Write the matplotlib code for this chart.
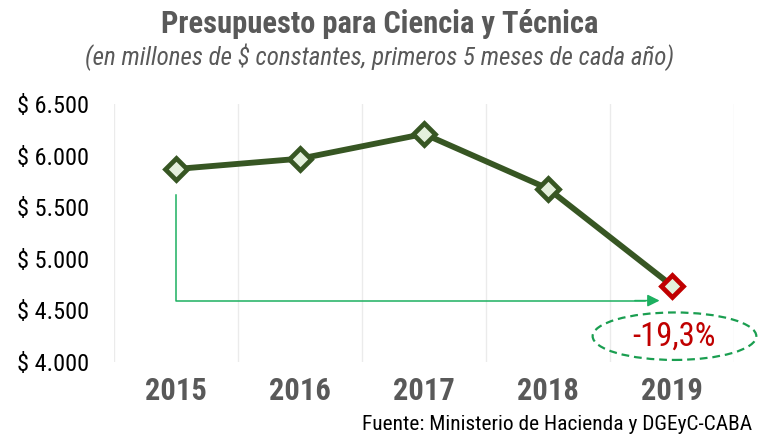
import matplotlib
matplotlib.use("Agg")
import matplotlib.pyplot as plt
from matplotlib.patches import Ellipse
from matplotlib.ticker import FixedLocator, FuncFormatter

plt.rcParams['font.family'] = ['Roboto Condensed', 'Roboto', 'DejaVu Sans']

years = ["2015", "2016", "2017", "2018", "2019"]
values = [5870, 5970, 6210, 5680, 4740]
yticks = [4000, 4500, 5000, 5500, 6000, 6500]
change_label = "-19,3%"

fig = plt.figure(figsize=(7.6, 4.43), dpi=100)
ax = fig.add_axes([114/760, 1-362/443, (734-114)/760, (362-104)/443])

x = list(range(len(years)))
dark = "#375623"
red = "#C00000"
green = "#1DB060"
gray = "#595959"

ax.plot(x, values, color=dark, lw=4.2, zorder=3, solid_joinstyle='round')
ax.plot(x[:-1], values[:-1], ls='none', marker='D', ms=11.5, mfc="#E4F0DC",
        mec=dark, mew=3.4, zorder=4)
ax.plot(x[-1:], values[-1:], ls='none', marker='D', ms=11.5, mfc="#E4F0DC",
        mec=red, mew=3.4, zorder=4)

ax.set_xlim(-0.5, 4.5)
ax.set_ylim(4000, 6500)
ax.set_xticks(x)
ax.set_xticklabels(years, fontsize=22, fontweight='bold', color=gray)
ax.xaxis.set_minor_locator(FixedLocator([i - 0.5 for i in range(len(years) + 1)]))
ax.grid(which='minor', axis='x', color='#EBEBEB', lw=1)
ax.grid(which='major', visible=False)
ax.set_yticks(yticks)
ax.yaxis.set_major_formatter(FuncFormatter(lambda v, p: "$ " + f"{int(v):,}".replace(",", ".")))
ax.tick_params(axis='y', labelsize=17.5, length=0, pad=18, labelcolor='black')
ax.tick_params(axis='x', length=0, pad=10)
ax.tick_params(which='minor', length=0)
for s in ax.spines.values():
    s.set_visible(False)

# arrow from 2015 to 2019
ax.plot([0, 0, 3.78], [5615, 4595, 4595], color=green, lw=1.1, zorder=2)
ax.annotate("", xy=(3.9, 4595), xytext=(3.7, 4595),
            arrowprops=dict(arrowstyle='-|>', color=green, lw=1.1,
                            mutation_scale=18, shrinkA=0, shrinkB=0))

# ellipse with change label
ell = Ellipse((4.02, 4250), width=1.32, height=460, fill=False, ec="#1A9E50",
              lw=1.6, ls=(0, (3.5, 2.2)), clip_on=False, zorder=5)
ax.add_patch(ell)
ax.text(4.02, 4250, change_label, color=red, fontsize=23.5, ha='center', va='center', zorder=6)

fig.text(0.5, 0.945, "Presupuesto para Ciencia y Técnica", ha='center', va='center',
         fontsize=22, fontweight='bold', color=gray)
fig.text(0.5, 0.870, "(en millones de $ constantes, primeros 5 meses de cada año)",
         ha='center', va='center', fontsize=18, fontstyle='italic', color=gray)
fig.text(752/760, 1-425/443, "Fuente: Ministerio de Hacienda y DGEyC-CABA", ha='right',
         va='center', fontsize=15.4, color='black')

fig.savefig("out.png", dpi=100)
